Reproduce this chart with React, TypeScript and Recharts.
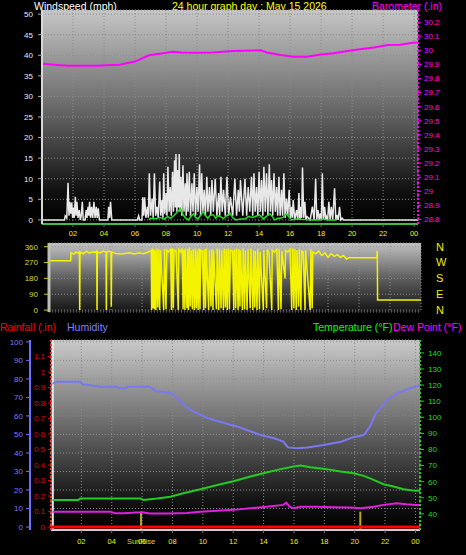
import React from 'react';
import { LineChart, Line, XAxis, YAxis, CartesianGrid, ReferenceLine } from 'recharts';

// ---------- ticks / labels ----------
const hourTicks = [2, 4, 6, 8, 10, 12, 14, 16, 18, 20, 22, 24];
const windTicks = [0, 5, 10, 15, 20, 25, 30, 35, 40, 45, 50];
const baroTicks = [28.8, 28.9, 29, 29.1, 29.2, 29.3, 29.4, 29.5, 29.6, 29.7, 29.8, 29.9, 30, 30.1, 30.2];
const dirTicks = [0, 90, 180, 270, 360];
const compassLabels: Record<number, string> = { 0: 'N', 90: 'E', 180: 'S', 270: 'W', 360: 'N' };
const humTicks = [0, 10, 20, 30, 40, 50, 60, 70, 80, 90, 100];
const rainTicks = [0, 0.1, 0.2, 0.3, 0.4, 0.5, 0.6, 0.7, 0.8, 0.9, 1, 1.1];
const tempTicks = [40, 50, 60, 70, 80, 90, 100, 110, 120, 130, 140];
const sunRise = 5.93;
const sunSet = 20.37;

// ---------- data: [hour, value] ----------
const windGust: [number, number][] = [
  [0, 0], [1.45, 0], [1.5, 1], [1.6, 0.5], [1.68, 9], [1.74, 1], [1.8, 4.4], [1.86, 1.5], [1.92, 4.2], [1.97, 0.5],
  [2.02, 3], [2.08, 0.5], [2.15, 5.6], [2.2, 1], [2.25, 4.4], [2.32, 0.5], [2.4, 2.4], [2.47, 0], [2.53, 1], [2.6, 4.4],
  [2.66, 0], [2.78, 0], [2.85, 2.4], [2.9, 0.5], [2.97, 3.2], [3.02, 1], [3.07, 4.4], [3.13, 0.5], [3.2, 3.2], [3.27, 0.5],
  [3.35, 4.4], [3.42, 0.5], [3.5, 3.2], [3.56, 0.5], [3.63, 2.8], [3.7, 0], [4.25, 0], [4.3, 3.2], [4.36, 0.5], [4.42, 4.4],
  [4.5, 0], [6.15, 0], [6.23, 1], [6.3, 0], [6.45, 0], [6.5, 5.5], [6.56, 1], [6.62, 5.5], [6.7, 0.5], [6.8, 3.2],
  [6.86, 0.5], [6.92, 11.3], [7.0, 1], [7.1, 5.2], [7.17, 0.5], [7.25, 11.3], [7.33, 1], [7.42, 3.2], [7.5, 0.5], [7.59, 9.3],
  [7.66, 1], [7.74, 4.8], [7.8, 0.5], [7.85, 11.3], [7.92, 1.5], [8.0, 6.5], [8.06, 1], [8.12, 12.9], [8.2, 2], [8.27, 8],
  [8.34, 1], [8.42, 11.7], [8.48, 2], [8.55, 14.5], [8.6, 3], [8.64, 16], [8.7, 2], [8.75, 12.1], [8.8, 3], [8.85, 16],
  [8.9, 2], [8.96, 10.5], [9.02, 1], [9.09, 13.3], [9.16, 2], [9.24, 8.9], [9.3, 1], [9.35, 11.3], [9.42, 2], [9.5, 11.7],
  [9.58, 1], [9.67, 8.9], [9.74, 2], [9.82, 11.3], [9.9, 1], [9.99, 8], [10.07, 2], [10.16, 13.5], [10.23, 1], [10.3, 11.3],
  [10.38, 2], [10.46, 7.3], [10.54, 1], [10.63, 10.5], [10.7, 2], [10.8, 8], [10.88, 1], [10.96, 9.7], [11.05, 2], [11.17, 10],
  [11.28, 1], [11.39, 6.5], [11.46, 1], [11.54, 10.5], [11.62, 2], [11.71, 7.3], [11.82, 1], [11.93, 10.5], [12.04, 1], [12.15, 5.6],
  [12.3, 1], [12.44, 10], [12.55, 1], [12.66, 7.3], [12.73, 2], [12.8, 9.7], [12.95, 1], [13.09, 10], [13.2, 1], [13.3, 8],
  [13.4, 2], [13.51, 10.5], [13.59, 1], [13.67, 11.3], [13.75, 2], [13.84, 8], [13.92, 1], [14.0, 11.7], [14.08, 2], [14.16, 9.7],
  [14.24, 1], [14.31, 12.9], [14.4, 2], [14.48, 11.3], [14.57, 1], [14.66, 13.5], [14.73, 2], [14.8, 9.7], [14.88, 1], [14.96, 11.3],
  [15.05, 2], [15.13, 8], [15.2, 1], [15.28, 10.5], [15.36, 1], [15.45, 7.3], [15.52, 1], [15.6, 11.3], [15.68, 0.5], [15.77, 5.2],
  [15.85, 1], [15.94, 7.3], [16.02, 0.5], [16.1, 3.2], [16.15, 0.5], [16.2, 4.8], [16.3, 0], [16.42, 2.4], [16.5, 0], [16.57, 6.5],
  [16.63, 0], [16.7, 3.2], [16.75, 0.5], [16.8, 12.7], [16.88, 0.5], [16.95, 4.4], [17.02, 0], [17.1, 0.8], [17.3, 0], [17.44, 3.2],
  [17.55, 0], [17.65, 10], [17.72, 0], [17.8, 2.4], [17.88, 0], [17.95, 1.6], [18.02, 0], [18.08, 11.3], [18.15, 0], [18.23, 3.2],
  [18.3, 0], [18.34, 0.8], [18.42, 0], [18.5, 4.4], [18.58, 0], [18.66, 3.2], [18.75, 0], [18.87, 7.7], [18.95, 0], [19.02, 1.2],
  [19.1, 0], [19.19, 3.2], [19.27, 0], [19.36, 0.4], [19.45, 0], [24.25, 0],
];

const windAvg: [number, number][] = [
  [6.9, 0], [7.0, 0.4], [7.3, 0.3], [7.6, 0.6], [7.9, 0.2], [8.1, 0.8], [8.3, 0.4], [8.5, 1.0], [8.7, 1.8], [8.93, 2.8],
  [9.1, 1.2], [9.25, 0.5], [9.45, 0], [9.6, 0.8], [9.77, 1.5], [9.9, 0.6], [10.05, 0.2], [10.25, 1.2], [10.4, 2.0], [10.55, 1.0],
  [10.7, 0.4], [10.85, 1.2], [11.06, 1.2], [11.2, 0.4], [11.35, 1.0], [11.5, 0.8], [11.7, 0.3], [11.9, 1.0], [12.15, 1.6], [12.3, 0.5],
  [12.5, 0], [12.8, 0.2], [13.1, 0.2], [13.3, 0.8], [13.6, 0.6], [13.8, 0.9], [14.0, 1.2], [14.15, 0.8], [14.27, 0.2], [14.45, 0.8],
  [14.7, 1.5], [14.85, 0.8], [15.0, 0], [15.2, 0.4], [15.35, 0.4], [15.55, 0.6], [15.77, 1.5], [15.95, 0.6], [16.1, 0], [16.5, 0.2],
  [16.9, 0.1], [17.3, 0], [17.9, 0], [18.1, 0.2], [18.4, 0], [19.0, 0],
];

const barometer: [number, number][] = [
  [0, 29.905], [1.6, 29.89], [3.6, 29.89], [4.5, 29.895], [5.0, 29.897], [6.0, 29.92], [6.9, 29.965], [7.8, 29.98],
  [8.4, 29.99], [9.0, 29.985], [10.0, 29.983], [11.0, 29.985], [12.3, 29.995], [14.1, 30.0], [14.5, 29.985], [15.4, 29.967],
  [16.2, 29.955], [17.1, 29.955], [18.0, 29.97], [18.8, 29.98], [19.7, 29.995], [20.5, 30.007], [21.4, 30.02], [22.3, 30.037],
  [23.1, 30.04], [23.9, 30.054], [24.25, 30.055],
];

const windDir: [number, number][] = [
  [0, 280], [1.4, 280], [1.42, 325], [1.6, 318], [1.75, 330], [1.9, 322], [1.96, 335], [1.98, 0], [2.0, 330], [2.2, 320],
  [2.4, 335], [2.6, 325], [2.8, 330], [3.0, 328], [3.08, 335], [3.1, 0], [3.12, 330], [3.3, 325], [3.5, 335], [3.68, 330],
  [3.7, 0], [3.72, 330], [3.85, 335], [4.0, 330], [4.02, 20], [4.04, 330], [4.3, 322], [4.6, 318], [4.9, 322], [5.2, 325],
  [5.5, 318], [5.8, 325], [6.1, 320], [6.4, 330], [6.6, 338],
  [6.62, 0], [6.66, 350], [6.7, 10], [6.75, 345], [6.8, 5], [6.85, 340], [6.9, 0], [6.96, 350], [7.02, 15], [7.08, 345],
  [7.14, 0], [7.2, 340], [7.4, 0], [7.45, 345], [7.55, 5], [7.6, 340], [7.7, 330], [7.85, 345], [7.9, 0], [7.95, 350],
  [8.02, 10], [8.06, 340], [8.2, 335], [8.34, 0], [8.37, 345], [8.5, 330], [8.6, 350], [8.65, 5], [8.7, 340], [8.77, 0],
  [8.8, 350], [8.9, 10], [8.95, 345], [9.0, 0], [9.06, 355], [9.12, 20], [9.18, 340], [9.25, 5], [9.3, 345], [9.38, 0],
  [9.44, 350], [9.5, 10], [9.56, 340], [9.62, 0], [9.68, 350], [9.74, 5], [9.78, 340], [9.9, 335], [9.98, 0], [10.03, 345],
  [10.1, 10], [10.15, 350], [10.3, 0], [10.35, 340], [10.45, 20], [10.5, 345], [10.58, 0], [10.62, 340], [10.8, 5], [10.85, 350],
  [10.95, 0], [11.0, 345], [11.1, 10], [11.15, 340], [11.25, 0], [11.3, 350], [11.38, 15], [11.43, 345], [11.5, 0], [11.56, 350],
  [11.64, 5], [11.7, 340], [11.85, 335], [11.92, 0], [11.97, 345], [12.05, 10], [12.1, 350], [12.2, 0], [12.25, 345], [12.32, 20],
  [12.36, 340], [12.48, 0], [12.53, 350], [12.62, 5], [12.67, 340], [12.78, 0], [12.84, 345], [12.98, 10], [13.03, 350], [13.15, 0],
  [13.2, 340], [13.28, 15], [13.32, 335], [13.42, 0], [13.47, 345], [13.58, 5], [13.62, 330], [13.83, 0], [13.86, 340], [14.04, 10],
  [14.08, 345], [14.2, 320], [14.37, 0], [14.4, 340], [14.55, 330], [14.7, 345], [14.8, 0], [14.85, 345], [14.97, 5], [15.02, 335],
  [15.23, 180], [15.26, 340], [15.4, 330], [15.55, 345], [15.66, 0], [15.72, 350], [15.8, 10], [15.86, 345], [15.95, 0], [16.0, 340],
  [16.1, 20], [16.15, 345], [16.25, 0], [16.3, 335], [16.4, 330], [16.52, 0], [16.55, 340], [16.85, 0], [16.9, 345], [16.98, 10],
  [17.02, 330], [17.2, 320], [17.4, 335], [17.6, 310], [17.8, 325], [18.0, 300], [18.2, 320], [18.4, 305], [18.6, 315], [18.8, 300],
  [19.0, 310], [19.2, 290], [19.4, 300], [19.45, 297], [21.15, 297], [21.18, 335], [21.2, 57], [24, 57],
];

const humidity: [number, number][] = [
  [0.1, 77.4], [0.4, 78.5], [1.9, 78.5], [2.1, 77], [2.4, 76.8], [3.2, 75.8], [4.3, 75.8], [4.5, 75], [4.9, 75], [5.1, 75.8],
  [6.5, 75.8], [6.9, 73.5], [7.2, 73.2], [7.9, 72.4], [8.3, 69.7], [8.85, 65], [9.4, 62.3], [10.3, 58.9], [11.4, 56.2], [12.3, 54.2],
  [12.9, 52.4], [13.8, 49.7], [14.7, 47.9], [15.3, 46.1], [15.6, 43], [16.2, 42.5], [16.9, 43], [17.95, 44.3], [19.1, 46.1], [19.9, 48.5],
  [20.6, 49.7], [21.0, 54.2], [21.4, 61.5], [21.7, 64.2], [22.15, 68.6], [22.8, 72.3], [23.5, 74.4], [24.1, 76.2], [24.3, 76.5],
];

const temperature: [number, number][] = [
  [0.1, 48.7], [1.8, 48.7], [1.93, 49.5], [5.89, 49.5], [6.08, 48.7], [7.0, 49.5], [7.86, 50.7], [8.72, 52.8], [9.84, 55.3],
  [10.96, 58], [12.02, 60.3], [13.13, 63.2], [14.19, 65.7], [15.12, 67.8], [15.97, 69.4], [16.43, 70], [17.09, 69], [18.15, 67.8],
  [19.07, 66.3], [19.93, 65.3], [20.59, 63.6], [21.25, 61.1], [21.9, 58.4], [22.56, 57], [23.22, 55.3], [24.0, 54.3], [24.3, 54.3],
];

const dewPoint: [number, number][] = [
  [0.1, 41.4], [3.9, 41.4], [4.2, 40.4], [4.8, 40.4], [5.6, 40.9], [6.1, 40.9], [6.5, 40.2], [7.7, 40.2], [8.97, 40.6],
  [9.84, 41.4], [10.96, 42], [12.02, 42.5], [13.13, 43.5], [14.19, 44.5], [15.3, 45.6], [15.5, 47], [15.7, 44.5], [15.97, 43.5],
  [16.43, 44.5], [17.5, 44.5], [18.6, 44.2], [19.7, 44], [20.4, 43.5], [21.25, 44.5], [21.9, 45.6], [22.76, 46.6], [23.4, 46],
  [24.0, 45.6], [24.3, 45.6],
];

const rainfall: [number, number][] = [[0, 0], [6, 0], [12, 0], [18, 0], [24.3, 0]];

// ---------- helpers ----------
const pts = (arr: [number, number][]) => arr.map(([h, v]) => ({ h, v }));
const hourLabel = (v: number) => (v === 24 ? '00' : String(v).padStart(2, '0'));
const FONT = '"Liberation Sans", Arial, sans-serif';

const BottomTick = (props: any) => {
  const { x, y, payload } = props;
  const v = payload.value;
  return (
    <g>
      <text x={x} y={y} dy="0.71em" textAnchor="middle" fill="#f0f000" fontSize={7.5} fontFamily={FONT}>
        {hourLabel(v)}
      </text>
      {v === 6 && (
        <text x={x - 1} y={y} dy="0.71em" textAnchor="middle" fill="#e0d000" fontSize={7.5} fontFamily={FONT}>
          SunRise
        </text>
      )}
    </g>
  );
};

const Grad = ({ id, stops }: { id: string; stops: [string, string][] }) => (
  <defs>
    <linearGradient id={id} x1="0" y1="0" x2="0" y2="1">
      {stops.map(([o, c]) => (
        <stop key={o} offset={o} stopColor={c} />
      ))}
    </linearGradient>
  </defs>
);

const abs = (left: number, top: number): React.CSSProperties => ({
  position: 'absolute',
  left,
  top,
  whiteSpace: 'nowrap',
  fontSize: 10.5,
  lineHeight: '12px',
  fontFamily: FONT,
});

export default function App() {
  return (
    <div
      style={{
        position: 'absolute',
        left: 0,
        top: 0,
        width: 466,
        height: 555,
        background: '#000',
        overflow: 'hidden',
        fontFamily: FONT,
      }}
    >
      {/* titles */}
      <div style={{ ...abs(34, 0), color: '#ffffff' }}>Windspeed (mph)</div>
      <div style={{ ...abs(172, 0), color: '#ffff00' }}>24 hour graph day : May 15 2026</div>
      <div style={{ ...abs(372, 0), color: '#ff00ff' }}>Barometer (.in)</div>
      <div style={{ ...abs(0, 321), color: '#ff0000' }}>Rainfall (.in)</div>
      <div style={{ ...abs(67, 321), color: '#8080ff' }}>Humidity</div>
      <div style={{ ...abs(313, 321), color: '#00ff00' }}>Temperature (°F)</div>
      <div style={{ ...abs(393, 321), color: '#ff00ff' }}>Dew Point (°F)</div>

      {/* Panel 1: wind speed + barometer */}
      <div style={{ position: 'absolute', left: 0, top: 0 }}>
        <LineChart width={466} height={245} margin={{ top: 10, right: 0, bottom: 0, left: 0 }}>
          <Grad id="bg1" stops={[['0', '#c6c6c6'], ['0.45', '#6a6a6a'], ['0.85', '#101010'], ['1', '#000000']]} />
          <CartesianGrid yAxisId="wind" fill="url(#bg1)" stroke="#8c8c8c" strokeDasharray="1 2" />
          <XAxis
            type="number"
            dataKey="h"
            domain={[0, 24.25]}
            ticks={hourTicks}
            interval={0}
            allowDataOverflow
            height={21}
            tickFormatter={hourLabel}
            tick={{ fill: '#f0f000', fontSize: 7.5, fontFamily: FONT }}
            tickSize={3}
            tickMargin={4}
            axisLine={{ stroke: '#44bb44', strokeWidth: 2 }}
            tickLine={{ stroke: '#777' }}
          />
          <YAxis
            yAxisId="wind"
            orientation="left"
            width={42}
            domain={[-1, 51]}
            ticks={windTicks}
            interval={0}
            allowDataOverflow
            tick={{ fill: '#e4ebff', fontSize: 8, fontFamily: FONT }}
            tickSize={4}
            tickMargin={5}
            axisLine={{ stroke: '#d8d8d8', strokeWidth: 2 }}
            tickLine={{ stroke: '#aaa' }}
          />
          <YAxis
            yAxisId="baro"
            orientation="right"
            width={48}
            domain={[28.768, 30.286]}
            ticks={baroTicks}
            interval={0}
            allowDataOverflow
            tickFormatter={(v: number) => String(Math.round(v * 10) / 10)}
            tick={{ fill: '#ff00ff', fontSize: 8, fontFamily: FONT }}
            tickSize={3}
            tickMargin={3}
            axisLine={{ stroke: '#ff00ff', strokeWidth: 2, strokeDasharray: '2 2' }}
            tickLine={{ stroke: '#ff00ff' }}
          />
          <Line
            yAxisId="wind"
            data={pts(windGust)}
            dataKey="v"
            type="linear"
            stroke="#e8e8e8"
            strokeWidth={1.5}
            dot={false}
            isAnimationActive={false}
          />
          <Line
            yAxisId="wind"
            data={pts(windAvg)}
            dataKey="v"
            type="linear"
            stroke="#22dd22"
            strokeWidth={1.5}
            dot={false}
            isAnimationActive={false}
          />
          <Line
            yAxisId="baro"
            data={pts(barometer)}
            dataKey="v"
            type="linear"
            stroke="#ff00ff"
            strokeWidth={2}
            dot={false}
            isAnimationActive={false}
          />
        </LineChart>
      </div>

      {/* Panel 2: wind direction */}
      <div style={{ position: 'absolute', left: 0, top: 240 }}>
        <LineChart width={466} height={75} margin={{ top: 3, right: 0, bottom: 3, left: 0 }}>
          <Grad id="bg2" stops={[['0', '#c2c2c2'], ['0.5', '#606060'], ['1', '#141414']]} />
          <CartesianGrid yAxisId="dir" fill="url(#bg2)" stroke="#8c8c8c" strokeDasharray="1 2" />
          <XAxis type="number" dataKey="h" domain={[0, 24]} ticks={hourTicks} allowDataOverflow hide />
          <YAxis
            yAxisId="dir"
            orientation="left"
            width={49}
            domain={[-11, 381]}
            ticks={dirTicks}
            interval={0}
            allowDataOverflow
            tick={{ fill: '#d8d830', fontSize: 8, fontFamily: FONT }}
            tickSize={5}
            tickMargin={6}
            axisLine={{ stroke: '#bdbdbd', strokeWidth: 3 }}
            tickLine={{ stroke: '#c8c830' }}
          />
          <YAxis
            yAxisId="compass"
            orientation="right"
            width={45}
            domain={[-11, 381]}
            ticks={dirTicks}
            interval={0}
            allowDataOverflow
            tickFormatter={(v: number) => compassLabels[v]}
            tick={{ fill: '#f0f000', fontSize: 11, fontFamily: FONT }}
            tickSize={0}
            tickMargin={15}
            axisLine={false}
            tickLine={false}
          />
          <Line
            yAxisId="dir"
            data={pts(windDir)}
            dataKey="v"
            type="linear"
            stroke="#f4f400"
            strokeWidth={1.5}
            dot={false}
            isAnimationActive={false}
          />
        </LineChart>
      </div>

      {/* Panel 3: rain / humidity / temperature / dew point */}
      <div style={{ position: 'absolute', left: 0, top: 335 }}>
        <LineChart width={466} height={220} margin={{ top: 5, right: 0, bottom: 5, left: 0 }}>
          <Grad id="bg3" stops={[['0', '#cacaca'], ['0.45', '#6a6a6a'], ['0.85', '#121212'], ['1', '#000000']]} />
          <CartesianGrid yAxisId="b-hum" fill="url(#bg3)" stroke="#8c8c8c" strokeDasharray="1 2" />
          <XAxis
            type="number"
            dataKey="h"
            domain={[0, 24.3]}
            ticks={hourTicks}
            interval={0}
            allowDataOverflow
            height={20}
            tick={<BottomTick />}
            tickSize={3}
            tickMargin={6}
            axisLine={{ stroke: '#d0d0d0', strokeWidth: 2 }}
            tickLine={{ stroke: '#777' }}
          />
          <YAxis
            yAxisId="a-rain"
            orientation="left"
            width={21}
            domain={[-0.019, 1.206]}
            ticks={rainTicks}
            interval={0}
            allowDataOverflow
            tickFormatter={(v: number) => String(Math.round(v * 10) / 10)}
            tick={{ fill: '#e00000', fontSize: 8, fontFamily: FONT }}
            tickSize={3}
            tickMargin={3}
            axisLine={{ stroke: '#ff3030', strokeWidth: 2, strokeDasharray: '2 2' }}
            tickLine={{ stroke: '#e00000' }}
          />
          <YAxis
            yAxisId="b-hum"
            orientation="left"
            width={30}
            domain={[-1.6, 101]}
            ticks={humTicks}
            interval={0}
            allowDataOverflow
            tick={{ fill: '#7a7aff', fontSize: 8, fontFamily: FONT }}
            tickSize={4}
            tickMargin={3}
            axisLine={{ stroke: '#7070ff', strokeWidth: 2 }}
            tickLine={{ stroke: '#7070ff' }}
          />
          <YAxis
            yAxisId="temp"
            orientation="right"
            width={46}
            domain={[30, 148]}
            ticks={tempTicks}
            interval={0}
            allowDataOverflow
            tick={{ fill: '#22dd22', fontSize: 8, fontFamily: FONT }}
            tickSize={4}
            tickMargin={4}
            axisLine={{ stroke: '#22cc22', strokeWidth: 2, strokeDasharray: '2 2' }}
            tickLine={{ stroke: '#22cc22' }}
          />
          <ReferenceLine yAxisId="b-hum" x={0.12} stroke="#e8e8e8" strokeWidth={2} />
          <ReferenceLine
            yAxisId="b-hum"
            segment={[
              { x: sunRise, y: -1.6 },
              { x: sunRise, y: 8.3 },
            ]}
            stroke="#b8a820"
            strokeWidth={2}
          />
          <ReferenceLine
            yAxisId="b-hum"
            segment={[
              { x: sunSet, y: -1.6 },
              { x: sunSet, y: 8.3 },
            ]}
            stroke="#b8a820"
            strokeWidth={2}
          />
          <Line
            yAxisId="b-hum"
            data={pts(humidity)}
            dataKey="v"
            type="linear"
            stroke="#7878f0"
            strokeWidth={2}
            dot={false}
            isAnimationActive={false}
          />
          <Line
            yAxisId="temp"
            data={pts(temperature)}
            dataKey="v"
            type="linear"
            stroke="#22cc22"
            strokeWidth={2}
            dot={false}
            isAnimationActive={false}
          />
          <Line
            yAxisId="temp"
            data={pts(dewPoint)}
            dataKey="v"
            type="linear"
            stroke="#e020e0"
            strokeWidth={2}
            dot={false}
            isAnimationActive={false}
          />
          <Line
            yAxisId="a-rain"
            data={pts(rainfall)}
            dataKey="v"
            type="linear"
            stroke="#ff0000"
            strokeWidth={3}
            dot={false}
            isAnimationActive={false}
          />
        </LineChart>
      </div>
    </div>
  );
}
